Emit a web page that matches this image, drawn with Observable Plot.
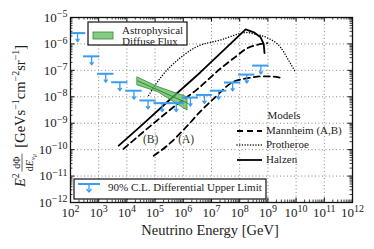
<!DOCTYPE html>
<html><head><meta charset="utf-8">
<script src="https://cdn.jsdelivr.net/npm/d3@7"></script>
<script src="https://cdn.jsdelivr.net/npm/@observablehq/plot@0.6"></script>
<style>body{margin:0;background:#fff} svg{display:block}</style>
</head><body><div id="chart"></div>
<script>
// ---- data (log10 values) ----
const xTickExp = [2,3,4,5,6,7,8,9,10,11,12];
const yTickExp = [-12,-11,-10,-9,-8,-7,-6,-5];

const limitLogE = [2.25,2.75,3.25,3.75,4.25,4.75,5.25,5.75,6.25,6.75,7.25,7.75,8.25,8.75];
const limitLogF = [-5.59,-6.47,-7.13,-7.45,-7.77,-8.14,-8.24,-8.24,-8.03,-7.93,-7.77,-7.46,-7.16,-6.82];

const bandLogE   = [4.38, 5.1, 6.15];
const bandHiLogF = [-7.27, -7.63, -8.02];
const bandLoLogF = [-7.57, -7.82, -8.52];
const fitLogE = [4.38, 6.15];
const fitLogF = [-7.40, -8.24];

const halzenLogE = [3.71, 4.5, 5.5, 6.61, 7.5, 8.21, 8.5, 8.74, 8.85, 8.88];
const halzenLogF = [-9.85, -9.1, -8.13, -7.07, -6.17, -5.45, -5.56, -5.75, -6.0, -6.35];

const protheroeLogE = [4.77, 4.95, 5.25, 5.9, 6.43, 7.32, 8.27, 8.5, 8.98, 9.45, 9.74, 9.98];
const protheroeLogF = [-7.95, -7.64, -7.2, -6.52, -6.13, -5.85, -5.57, -5.62, -5.77, -6.13, -6.63, -7.07];

const mannBLogE = [3.88, 4.84, 5.7, 6.49, 7.32, 7.9, 8.27, 8.6, 8.98];
const mannBLogF = [-9.97, -9.1, -8.35, -7.72, -6.93, -6.45, -6.16, -6.04, -5.97];

const mannALogE = [4.95, 5.43, 6.14, 6.61, 7.2, 7.72, 8.03, 8.38, 8.74, 9.09, 9.45];
const mannALogF = [-10.23, -9.85, -9.1, -8.55, -7.95, -7.46, -7.35, -7.28, -7.23, -7.23, -7.28];

const curveLabels = ["(B)", "(A)"];
const curveLabelLogE = [4.84, 6.10];
const curveLabelLogF = [-9.62, -9.62];

// ---- build tables ----
const p10 = v => Math.pow(10, v);
const xTicks = xTickExp.map(p10);
const yTicks = yTickExp.map(p10);
const minorX = [], minorY = [];
for (let e = 2; e < 12; e++) for (let m = 2; m < 10; m++) minorX.push(m * p10(e));
for (let e = -12; e < -5; e++) for (let m = 2; m < 10; m++) minorY.push(m * p10(e));
const toPts = (xs, ys) => xs.map((x, i) => ({x: p10(x), y: p10(ys[i])}));
const limits = limitLogE.map((e, i) => ({x: p10(e), x1: p10(e - 0.29), x2: p10(e + 0.29), y: p10(limitLogF[i]), y2: p10(limitLogF[i] - 0.32)}));
const band = bandLogE.map((e, i) => ({x: p10(e), hi: p10(bandHiLogF[i]), lo: p10(bandLoLogF[i])}));
const fit = toPts(fitLogE, fitLogF);
const halzen = toPts(halzenLogE, halzenLogF);
const protheroe = toPts(protheroeLogE, protheroeLogF);
const mannB = toPts(mannBLogE, mannBLogF);
const mannA = toPts(mannALogE, mannALogF);
const labels = curveLabels.map((t, i) => ({t, x: p10(curveLabelLogE[i]), y: p10(curveLabelLogF[i])}));

const W = 374, H = 249, mL = 70, mR = 22, mT = 17, mB = 47;
const pW = W - mL - mR, pH = H - mT - mB;
const BLUE = "#3a9cf2", GREEN = "#5cb85c", DGREEN = "#2f8a2f";
const FONT = "'Liberation Serif', 'DejaVu Serif', serif";

const plot = Plot.plot({
  width: W, height: H, marginLeft: mL, marginRight: mR, marginTop: mT, marginBottom: mB,
  style: {fontFamily: FONT, fontSize: "13px", color: "#222", background: "white"},
  x: {type: "log", domain: [1e2, 1e12]},
  y: {type: "log", domain: [1e-12, 1e-5]},
  marks: [
    Plot.gridX(xTicks, {stroke: "#8a8a8a", strokeOpacity: 1, strokeDasharray: "1,2.5"}),
    Plot.gridY(yTicks, {stroke: "#8a8a8a", strokeOpacity: 1, strokeDasharray: "1,2.5"}),
    // inward ticks
    Plot.tickX(xTicks, {x: d => d, insetTop: pH - 4.5, stroke: "#111"}),
    Plot.tickX(minorX, {x: d => d, insetTop: pH - 2.5, stroke: "#111", strokeWidth: 0.8}),
    Plot.tickX(xTicks, {x: d => d, insetBottom: pH - 4.5, stroke: "#111"}),
    Plot.tickX(minorX, {x: d => d, insetBottom: pH - 2.5, stroke: "#111", strokeWidth: 0.8}),
    Plot.tickY(yTicks, {y: d => d, insetRight: pW - 4.5, stroke: "#111"}),
    Plot.tickY(minorY, {y: d => d, insetRight: pW - 2.5, stroke: "#111", strokeWidth: 0.8}),
    Plot.tickY(yTicks, {y: d => d, insetLeft: pW - 4.5, stroke: "#111"}),
    Plot.tickY(minorY, {y: d => d, insetLeft: pW - 2.5, stroke: "#111", strokeWidth: 0.8}),
    // models
    Plot.line(mannB, {x: "x", y: "y", stroke: "#000", strokeWidth: 1.8, strokeDasharray: "6,4", curve: "monotone-x", clip: true}),
    Plot.line(mannA, {x: "x", y: "y", stroke: "#000", strokeWidth: 1.8, strokeDasharray: "6,4", curve: "monotone-x", clip: true}),
    Plot.line(protheroe, {x: "x", y: "y", stroke: "#000", strokeWidth: 1.4, strokeDasharray: "0.1,2.6", strokeLinecap: "round", curve: "monotone-x", clip: true}),
    Plot.line(halzen, {x: "x", y: "y", stroke: "#000", strokeWidth: 1.8, clip: true}),
    // astrophysical flux band
    Plot.areaY(band, {x: "x", y1: "lo", y2: "hi", fill: GREEN, fillOpacity: 0.75, stroke: DGREEN, strokeWidth: 0.8}),
    Plot.line(fit, {x: "x", y: "y", stroke: DGREEN, strokeWidth: 1}),
    // upper limits
    Plot.ruleY(limits, {y: "y", x1: "x1", x2: "x2", stroke: BLUE, strokeWidth: 2, clip: true}),
    Plot.arrow(limits, {x1: "x", x2: "x", y1: "y", y2: "y2", stroke: BLUE, strokeWidth: 1.3, headLength: 4, headAngle: 70}),
    Plot.text(labels, {x: "x", y: "y", text: "t", fontSize: 11.5, fill: "#333"}),
    Plot.axisX(xTicks, {tickSize: 0, tickPadding: 5, label: null, tickFormat: d => `10^${Math.round(Math.log10(d))}`}),
    Plot.axisY(yTicks, {tickSize: 0, tickPadding: 3, label: null, tickFormat: d => `10^${Math.round(Math.log10(d))}`}),
    Plot.frame({stroke: "#111", strokeWidth: 1.3})
  ]
});
document.getElementById("chart").appendChild(plot);
const svg = d3.select(plot);

// superscripts in tick labels
svg.selectAll('g[aria-label="x-axis tick label"] text, g[aria-label="y-axis tick label"] text').each(function () {
  const s = this.textContent; const [b, e] = s.split("^");
  const t = d3.select(this); t.text(b);
  t.append("tspan").attr("dy", "-0.45em").attr("font-size", "10px").text(e.replace("-", "\u2212"));
});

// legend: astrophysical diffuse flux
const g1 = svg.append("g").attr("font-family", FONT).attr("font-size", 11).attr("fill", "#222").attr("text-anchor", "start");
g1.append("rect").attr("x", 88).attr("y", 22).attr("width", 99).attr("height", 23).attr("fill", "white").attr("stroke", "#111").attr("stroke-width", 1.2);
g1.append("rect").attr("x", 93).attr("y", 32).attr("width", 20).attr("height", 7).attr("fill", GREEN).attr("fill-opacity", 0.75).attr("stroke", DGREEN).attr("stroke-width", 0.8);
g1.append("text").attr("x", 122).attr("y", 31).attr("dominant-baseline", "middle").text("Astrophysical");
g1.append("text").attr("x", 122).attr("y", 42).attr("dominant-baseline", "middle").text("Diffuse Flux");

// legend: upper limit
const g2 = svg.append("g").attr("font-family", FONT).attr("font-size", 11).attr("fill", "#222").attr("text-anchor", "start");
g2.append("rect").attr("x", 74).attr("y", 179).attr("width", 192).attr("height", 20).attr("fill", "white").attr("stroke", "#111").attr("stroke-width", 1.2);
g2.append("line").attr("x1", 78).attr("x2", 100).attr("y1", 184).attr("y2", 184).attr("stroke", BLUE).attr("stroke-width", 2);
g2.append("line").attr("x1", 89).attr("x2", 89).attr("y1", 184).attr("y2", 192).attr("stroke", BLUE).attr("stroke-width", 1.3);
g2.append("path").attr("d", "M86.5,189 L89,192 L91.5,189").attr("fill", "none").attr("stroke", BLUE).attr("stroke-width", 1.3);
g2.append("text").attr("x", 108).attr("y", 188.5).attr("dominant-baseline", "middle").text("90% C.L. Differential Upper Limit");

// legend: models
const g3 = svg.append("g").attr("font-family", FONT).attr("font-size", 11).attr("fill", "#222").attr("text-anchor", "start");
g3.append("text").attr("x", 284).attr("y", 116).attr("text-anchor", "middle").attr("dominant-baseline", "middle").text("Models");
const mods = [["Mannheim (A,B)", "6,4", 1.8, 131], ["Protheroe", "0.1,2.6", 1.4, 145], ["Halzen", null, 1.8, 160]];
for (const [name, dash, sw, yy] of mods) {
  g3.append("line").attr("x1", 237).attr("x2", 262).attr("y1", yy).attr("y2", yy).attr("stroke", "#000").attr("stroke-width", sw)
    .attr("stroke-dasharray", dash).attr("stroke-linecap", dash && dash.startsWith("0.1") ? "round" : "butt");
  g3.append("text").attr("x", 266).attr("y", yy).attr("dominant-baseline", "middle").text(name);
}

// x-axis title
svg.append("text").attr("x", 210).attr("y", 235).attr("text-anchor", "middle").attr("font-family", FONT).attr("font-size", 14.5).attr("fill", "#222").text("Neutrino Energy [GeV]");

// y-axis title (rotated)
const gy = svg.append("g").attr("transform", "translate(25,187) rotate(-90)").attr("font-family", FONT).attr("fill", "#222").attr("text-anchor", "start");
let u = 0;
function put(txt, size, v, style) {
  const t = gy.append("text").attr("x", u).attr("y", v).attr("font-size", size).text(txt);
  if (style) t.attr("font-style", style);
  const w = t.node().getComputedTextLength(); u += w; return w;
}
put("E", 14.5, 0, "italic");
put("2", 10, -6);
u += 1.5;
// fraction
const fx = u;
const num = gy.append("text").attr("y", -5).attr("font-size", 10).text("d\u03A6");
const den = gy.append("text").attr("y", 7.5).attr("font-size", 10);
den.append("tspan").text("d");
den.append("tspan").attr("font-style", "italic").text("E");
den.append("tspan").attr("font-size", 7).attr("font-style", "italic").attr("dy", 2).text("\u03BD");
den.append("tspan").attr("font-size", 5.5).attr("font-style", "italic").attr("dy", 1.2).text("\u03BC");
const nw = num.node().getComputedTextLength(), dw = den.node().getComputedTextLength();
const fw = Math.max(nw, dw) + 1;
num.attr("x", fx + (fw - nw) / 2); den.attr("x", fx + (fw - dw) / 2);
gy.append("line").attr("x1", fx).attr("x2", fx + fw).attr("y1", -3).attr("y2", -3).attr("stroke", "#222").attr("stroke-width", 0.7);
u = fx + fw + 6;
put("[GeVs", 14.5, 0); put("\u22121", 10, -6); put("cm", 14.5, 0); put("\u22122", 10, -6); put("sr", 14.5, 0); put("\u22121", 10, -6); put("]", 14.5, 0);
</script>
</body></html>
